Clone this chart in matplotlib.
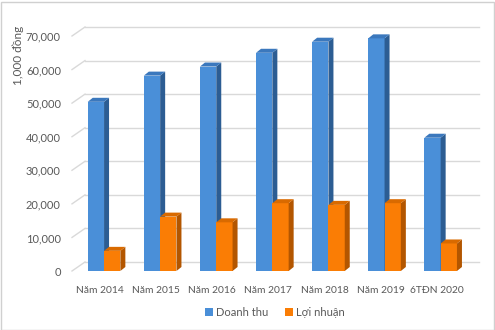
import matplotlib
matplotlib.use("Agg")
import matplotlib.pyplot as plt
from matplotlib.patches import Polygon, Patch, Rectangle

plt.rcParams['font.family'] = ['Lato', 'DejaVu Sans']

years = ["Năm 2014", "Năm 2015", "Năm 2016", "Năm 2017", "Năm 2018", "Năm 2019", "6TĐN 2020"]
doanh_thu = [50400, 58200, 60900, 65000, 68300, 69300, 39700]
loi_nhuan = [6000, 16200, 14500, 20200, 19700, 20200, 8200]
yticks = [0, 10000, 20000, 30000, 40000, 50000, 60000, 70000]

W, H = 495, 330
fig = plt.figure(figsize=(W / 100, H / 100), dpi=100)
ax_l, ax_w = 72, 392.7
ax_b, ax_h = 59, 235
ax = fig.add_axes([ax_l / W, ax_b / H, ax_w / W, ax_h / H])
ax.set_xlim(-0.5, 6.5)
ax.set_ylim(0, 70000)

# pixel -> data
px_x = 7 / ax_w
px_y = 70000 / ax_h

grey = '#595959'
grid_c = '#d9d9d9'
fs = 8.0

# back wall grid lines with floor diagonal
gx, gy = 13 * px_x, 9 * px_y
for v in yticks:
    ax.plot([-0.5 + gx, 6.5 + 14 * px_x], [v + gy, v + gy], color=grid_c, lw=1.0, clip_on=False, zorder=1)
    ax.plot([-0.5, -0.5 + gx], [v, v + gy], color=grid_c, lw=1.0, clip_on=False, zorder=1)

bw = 16.3 * px_x
dx, dy = 5 * px_x, 4 * px_y
shift = 4 * px_x


def bar3d(x0, h, front, side, top, z):
    ax.add_patch(Rectangle((x0, 0), bw, h, facecolor=front, edgecolor='none', zorder=z))
    ax.add_patch(Polygon([(x0 + bw, 0), (x0 + bw + dx, dy), (x0 + bw + dx, h + dy), (x0 + bw, h)],
                         closed=True, facecolor=side, edgecolor='none', zorder=z, clip_on=False))
    ax.add_patch(Polygon([(x0, h), (x0 + dx, h + dy), (x0 + bw + dx, h + dy), (x0 + bw, h)],
                         closed=True, facecolor=top, edgecolor='none', zorder=z, clip_on=False))


for i in range(len(years)):
    c = i + shift
    bar3d(c - bw, doanh_thu[i], '#4a8fd8', '#2c5d93', '#3b78bd', 3)
    bar3d(c, loi_nhuan[i], '#fa7d05', '#b35600', '#d96a00', 4)

ax.set_xticks(range(len(years)))
ax.set_xticklabels(years, fontsize=7.4, color=grey)
ax.set_yticks(yticks)
ax.set_yticklabels([f"{v:,}" for v in yticks], fontsize=fs, color=grey)
ax.tick_params(axis='both', length=0)
ax.tick_params(axis='x', pad=11)
ax.tick_params(axis='y', pad=8)
for s in ax.spines.values():
    s.set_visible(False)
ax.patch.set_alpha(0)

fig.text(18 / W, 1 - 55 / H, "1,000 đồng", rotation=90, ha='center', va='center', fontsize=8.5, color=grey)

handles = [Patch(facecolor='#4a8fd8', label='Doanh thu'), Patch(facecolor='#fa7d05', label='Lợi nhuận')]
fig.legend(handles=handles, loc='center', bbox_to_anchor=(275 / W, 1 - 312 / H), ncol=2, frameon=False,
           fontsize=fs, handlelength=0.7, handleheight=0.7, handletextpad=0.3, columnspacing=1.5,
           labelcolor=grey)

fig.patches.append(Rectangle((0.5 / W, 0.5 / H), 1 - 2 / W, 1 - 2 / H, transform=fig.transFigure,
                             fill=False, edgecolor='#d0d0d0', lw=1))

fig.savefig("out.png", dpi=100)
